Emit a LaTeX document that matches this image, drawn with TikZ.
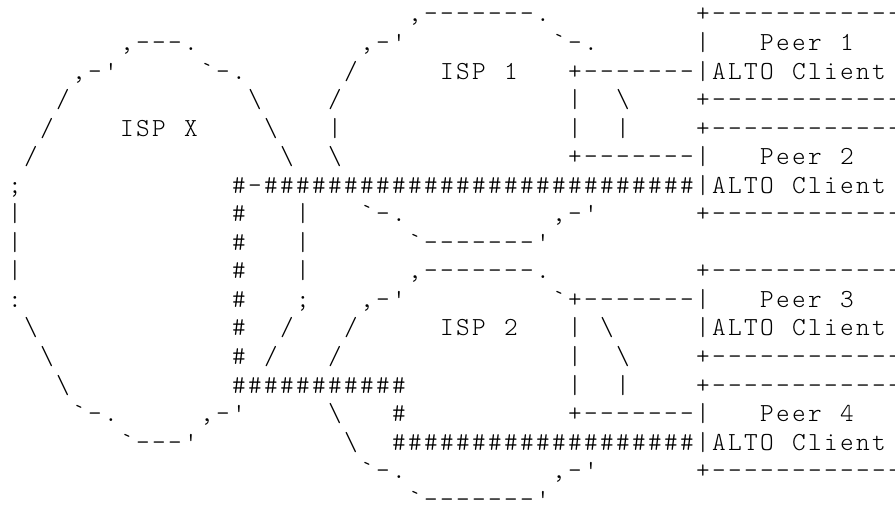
\documentclass[tikz,border=0pt]{standalone}
\usepackage{fontspec}
\setmonofont{lmmonolt10-regular.otf}
\tikzset{txt/.style={inner sep=0pt,outer sep=0pt,anchor=base west,font=\ttfamily\fontsize{19.5}{24}\selectfont,text=black}}
\ExplSyntaxOn
\NewDocumentCommand \cells { m }
  { \tl_map_inline:nn {#1} { \hbox_to_wd:nn {12pt} { \hss ##1 \hss } } }
\ExplSyntaxOff
\newcommand\seg[3]{\node[txt] (n#1x#2) at ({7+16*#2},{22+28.54*#1}) {\cells{#3}};}
\newcommand\bs{\textbackslash}
\begin{document}
\begin{tikzpicture}[x=0.75pt,y=-0.75pt]
\fill[white] (0,0) rectangle (895,513);
\useasboundingbox (0,0) rectangle (895,513);
% row 0
\seg{0}{25}{,-------.}
\seg{0}{43}{+------------}
% row 1
\seg{1}{7}{,---.}
\seg{1}{22}{,-'}
\seg{1}{34}{`-.}
\seg{1}{43}{|}
\seg{1}{47}{Peer~1}
% row 2
\seg{2}{4}{,-'}
\seg{2}{12}{`-.}
\seg{2}{21}{/}
\seg{2}{27}{ISP~1}
\seg{2}{35}{+-------|ALTO~Client}
% row 3
\seg{3}{3}{/}
\seg{3}{15}{\bs}
\seg{3}{20}{/}
\seg{3}{35}{|}
\seg{3}{38}{\bs}
\seg{3}{43}{+------------}
% row 4
\seg{4}{2}{/}
\seg{4}{7}{ISP~X}
\seg{4}{16}{\bs}
\seg{4}{20}{|}
\seg{4}{35}{|}
\seg{4}{38}{|}
\seg{4}{43}{+------------}
% row 5
\seg{5}{1}{/}
\seg{5}{17}{\bs}
\seg{5}{20}{\bs}
\seg{5}{35}{+-------|}
\seg{5}{47}{Peer~2}
% row 6
\seg{6}{0}{;}
\seg{6}{14}{\#-\#\#\#\#\#\#\#\#\#\#\#\#\#\#\#\#\#\#\#\#\#\#\#\#\#\#\#|ALTO~Client}
% row 7
\seg{7}{0}{|}
\seg{7}{14}{\#}
\seg{7}{18}{|}
\seg{7}{22}{`-.}
\seg{7}{34}{,-'}
\seg{7}{43}{+------------}
% row 8
\seg{8}{0}{|}
\seg{8}{14}{\#}
\seg{8}{18}{|}
\seg{8}{25}{`-------'}
% row 9
\seg{9}{0}{|}
\seg{9}{14}{\#}
\seg{9}{18}{|}
\seg{9}{25}{,-------.}
\seg{9}{43}{+------------}
% row 10
\seg{10}{0}{:}
\seg{10}{14}{\#}
\seg{10}{18}{;}
\seg{10}{22}{,-'}
\seg{10}{34}{`+-------|}
\seg{10}{47}{Peer~3}
% row 11
\seg{11}{1}{\bs}
\seg{11}{14}{\#}
\seg{11}{17}{/}
\seg{11}{21}{/}
\seg{11}{27}{ISP~2}
\seg{11}{35}{|}
\seg{11}{37}{\bs}
\seg{11}{43}{|ALTO~Client}
% row 12
\seg{12}{2}{\bs}
\seg{12}{14}{\#}
\seg{12}{16}{/}
\seg{12}{20}{/}
\seg{12}{35}{|}
\seg{12}{38}{\bs}
\seg{12}{43}{+------------}
% row 13
\seg{13}{3}{\bs}
\seg{13}{14}{\#\#\#\#\#\#\#\#\#\#\#}
\seg{13}{35}{|}
\seg{13}{38}{|}
\seg{13}{43}{+------------}
% row 14
\seg{14}{4}{`-.}
\seg{14}{12}{,-'}
\seg{14}{20}{\bs}
\seg{14}{24}{\#}
\seg{14}{35}{+-------|}
\seg{14}{47}{Peer~4}
% row 15
\seg{15}{7}{`---'}
\seg{15}{21}{\bs}
\seg{15}{24}{\#\#\#\#\#\#\#\#\#\#\#\#\#\#\#\#\#\#\#|ALTO~Client}
% row 16
\seg{16}{22}{`-.}
\seg{16}{34}{,-'}
\seg{16}{43}{+------------}
% row 17
\seg{17}{25}{`-------'}
\end{tikzpicture}
\end{document}
